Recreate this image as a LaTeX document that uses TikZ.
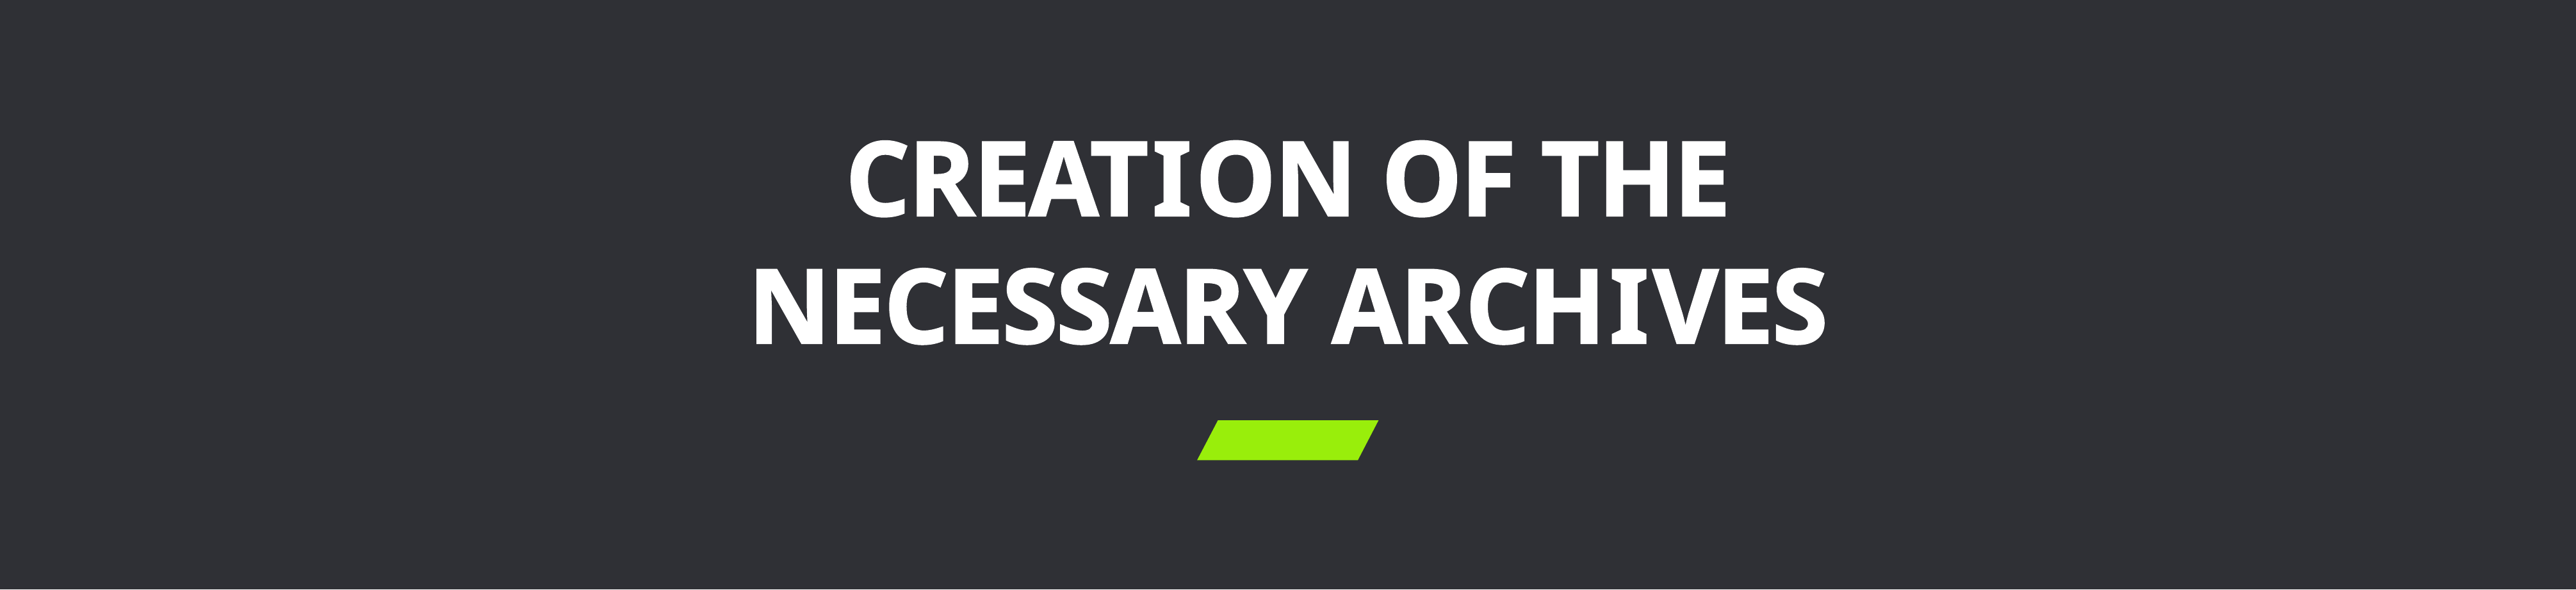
\documentclass[tikz,border=0pt]{standalone}
\usepackage{fontspec}
\newfontfamily\titlefont[BoldFeatures={FakeBold=1.6}, LetterSpace=-1.5, FakeStretch=0.98, RawFeature={+ss01}]{Open Sans}
\definecolor{bgdark}{HTML}{2F3035}
\definecolor{limebar}{HTML}{99EE0B}
\tikzstyle{title} = [text=white, inner sep=0pt, font=\titlefont\bfseries\fontsize{40.3}{48}\selectfont]
\newcommand{\serifI}{\kern1.5pt I\kern1.5pt}

\begin{document}
\begin{tikzpicture}[node distance=49.8pt]
\fill [bgdark] (0pt,0pt) rectangle (1005.5pt,-230pt);
\useasboundingbox (0pt,0pt) rectangle (1005.5pt,-230pt);

\node (line1) [title, anchor=base] at (502.75pt,-84.2pt) {CREAT\serifI ON OF THE};
\node (line2) [title, below of=line1] {NECESSARY ARCH\serifI VES};

% accent bar
\fill [limebar] (467.25pt,-179.6pt) -- (475.4pt,-164pt) -- (538.1pt,-164pt) -- (530pt,-179.6pt) -- cycle;

\end{tikzpicture}
\end{document}
